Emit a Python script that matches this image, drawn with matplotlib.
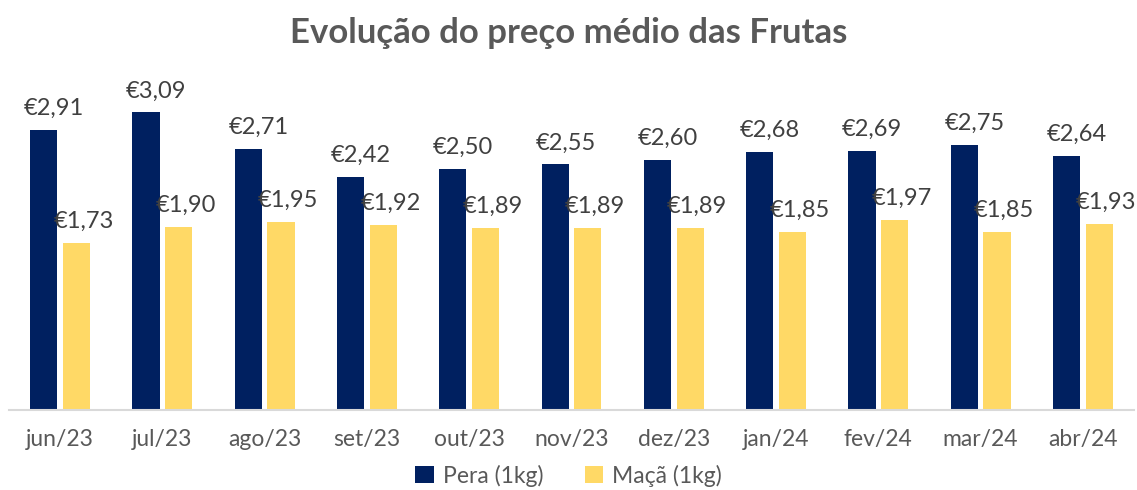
import matplotlib.pyplot as plt
import numpy as np

plt.rcParams['font.family'] = ['Lato', 'DejaVu Sans']

meses = ['jun/23', 'jul/23', 'ago/23', 'set/23', 'out/23', 'nov/23',
         'dez/23', 'jan/24', 'fev/24', 'mar/24', 'abr/24']
pera = [2.91, 3.09, 2.71, 2.42, 2.50, 2.55, 2.60, 2.68, 2.69, 2.75, 2.64]
maca = [1.73, 1.90, 1.95, 1.92, 1.89, 1.89, 1.89, 1.85, 1.97, 1.85, 1.93]

cor_pera = '#002060'
cor_maca = '#FFD966'
cinza = '#595959'

fig = plt.figure(figsize=(11.37, 4.9), dpi=100)
ax = fig.add_axes([9 / 1137, 80 / 490, 1125 / 1137, 337 / 490])

x = np.arange(len(meses))
w = 0.265
off = 0.16
ax.bar(x - off, pera, w, color=cor_pera, label='Pera (1kg)', zorder=2)
ax.bar(x + off, maca, w, color=cor_maca, label='Maçã (1kg)', zorder=2)

def fmt(v):
    return '€' + f'{v:.2f}'.replace('.', ',')

for xi, p, m in zip(x, pera, maca):
    ax.annotate(fmt(p), (xi - off + 0.1, p), xytext=(0, 8), textcoords='offset points',
                ha='center', va='bottom', fontsize=17, color='#404040')
    ax.annotate(fmt(m), (xi + off + 0.07, m), xytext=(0, 8), textcoords='offset points',
                ha='center', va='bottom', fontsize=17, color='#404040')

ax.set_xlim(-0.5, len(meses) - 0.5)
ax.set_ylim(0, 3.5)
ax.set_yticks([])
ax.set_xticks(x)
ax.set_xticklabels(meses, fontsize=16.5, color=cinza)
ax.tick_params(axis='x', length=0, pad=14)
for s in ['top', 'right', 'left']:
    ax.spines[s].set_visible(False)
ax.spines['bottom'].set_color('#D9D9D9')
ax.spines['bottom'].set_linewidth(1.5)

fig.suptitle('Evolução do preço médio das Frutas', fontsize=25, fontweight='bold',
             color=cinza, y=0.965)

fig.legend(loc='lower center', bbox_to_anchor=(0.5, -0.035), ncol=2, frameon=False,
           fontsize=16.5, labelcolor=cinza, handlelength=0.8, handleheight=0.8,
           handletextpad=0.4, columnspacing=1.8)

fig.savefig('out.png', dpi=100)
